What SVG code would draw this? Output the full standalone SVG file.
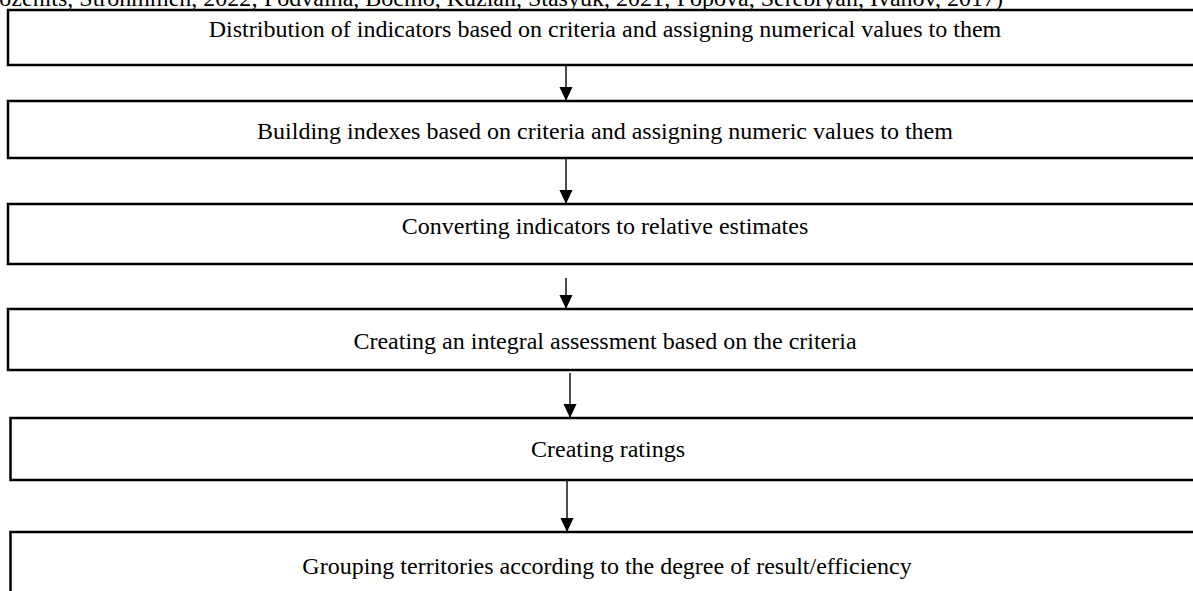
<svg xmlns="http://www.w3.org/2000/svg" width="1193" height="591" viewBox="0 0 1193 591">
<defs>
<marker id="ah" viewBox="0 0 14 15" refX="14" refY="7" markerWidth="15" markerHeight="14" markerUnits="userSpaceOnUse" orient="auto">
<path d="M0,0 L15,7 L0,14 Z" fill="#000"/>
</marker>
<style>
.box{fill:#fff;stroke:#000;stroke-width:2.5}
.t{font-family:"Liberation Serif","Times New Roman",serif;font-size:24px;fill:#000;text-anchor:middle}
.c{stroke:#000;stroke-width:1.4;fill:none;marker-end:url(#ah)}
</style>
</defs>
<rect width="1193" height="591" fill="#fff"/>
<text x="1003" y="6" style="font-family:'Liberation Serif','Times New Roman',serif;font-size:24px;text-anchor:end">(Kozenits, Strohmmen, 2022; Podvalna, Bocmo, Kuzian, Stasyuk, 2021; Popova, Serebryan, Ivanov, 2017)</text>
<g id="n1"><rect class="box" x="8" y="10" width="1194" height="55"/><text class="t" x="605" y="37">Distribution of indicators based on criteria and assigning numerical values to them</text></g>
<g id="n2"><rect class="box" x="8" y="101" width="1194" height="57"/><text class="t" x="605" y="139">Building indexes based on criteria and assigning numeric values to them</text></g>
<g id="n3"><rect class="box" x="8" y="204" width="1194" height="60"/><text class="t" x="605" y="234">Converting indicators to relative estimates</text></g>
<g id="n4"><rect class="box" x="8" y="309" width="1194" height="61"/><text class="t" x="605" y="349">Creating an integral assessment based on the criteria</text></g>
<g id="n5"><rect class="box" x="10.5" y="418" width="1194" height="62"/><text class="t" x="608" y="457">Creating ratings</text></g>
<g id="n6"><rect class="box" x="10.5" y="532" width="1194" height="80"/><text class="t" x="607" y="574">Grouping territories according to the degree of result/efficiency</text></g>
<g id="connectors">
<line class="c" x1="566" y1="66" x2="566" y2="100"/>
<line class="c" x1="566" y1="159" x2="566" y2="203"/>
<line class="c" x1="566" y1="278" x2="566" y2="308"/>
<line class="c" x1="570" y1="373" x2="570" y2="417"/>
<line class="c" x1="567" y1="481" x2="567" y2="531"/>
</g>
</svg>
